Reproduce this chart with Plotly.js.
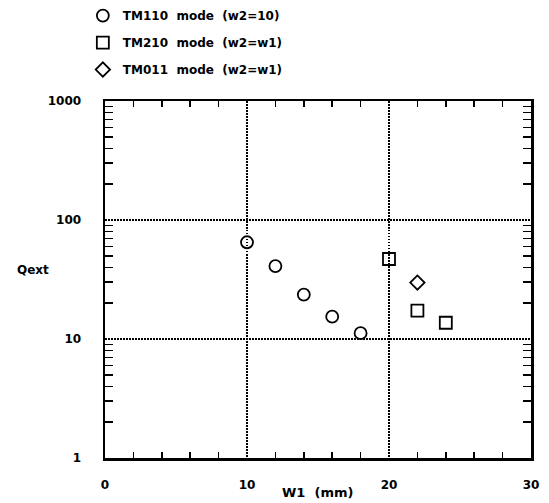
<!DOCTYPE html>
<html><head><meta charset="utf-8">
<script src="https://cdn.plot.ly/plotly-3.0.1.min.js"></script>
<style>body{margin:0;background:#fff}#plot{width:549px;height:503px}</style>
</head><body><div id="plot"></div>
<script>
const tm110_x = [10, 12, 14, 16, 18];
const tm110_q = [65, 41, 23.6, 15.4, 11.2];
const tm210_x = [20, 22, 24];
const tm210_q = [47, 17.3, 13.7];
const tm011_x = [22];
const tm011_q = [29.8];
const names = ['TM110\u00a0\u00a0mode\u00a0\u00a0(w2=10)', 'TM210\u00a0\u00a0mode\u00a0\u00a0(w2=w1)', 'TM011\u00a0\u00a0mode\u00a0\u00a0(w2=w1)'];
const xTicks = [0, 10, 20, 30];
const yTicks = [1, 10, 100, 1000];

const minorY = [];
[1, 10, 100].forEach(d => { for (let k = 2; k <= 9; k++) minorY.push(d * k); });

const FONT = 'DejaVu Sans, Arial, sans-serif';
const mk = (sym, size) => ({symbol: sym, size: size, color: '#000', line: {color: '#000', width: 1.8}});
const traces = [
  {x: tm110_x, y: tm110_q, name: names[0], mode: 'markers', marker: mk('circle-open', 12), legendgroup: 'a'},
  {x: tm210_x, y: tm210_q, name: names[1], mode: 'markers', marker: mk('square-open', 12), legendgroup: 'b'},
  {x: tm011_x, y: tm011_q, name: names[2], mode: 'markers', marker: mk('diamond-open', 11), legendgroup: 'c'}
];
const GRIDDASH = '1.5px,1.5px';
const layout = {
  width: 549, height: 503,
  margin: {l: 105, r: 18, t: 101, b: 45, autoexpand: false},
  paper_bgcolor: '#fff', plot_bgcolor: '#fff',
  font: {family: FONT, color: '#000', size: 12},
  showlegend: true,
  legend: {x: -0.052, xanchor: 'left', y: 1.28, yanchor: 'top', traceorder: 'grouped', tracegroupgap: 8,
           font: {family: FONT, size: 12, weight: 'bold'}, bgcolor: 'rgba(0,0,0,0)'},
  xaxis: {range: [0, 30], tickvals: xTicks, ticktext: xTicks.map(String), ticks: '', showgrid: true,
          griddash: GRIDDASH, gridcolor: '#000', gridwidth: 1.3, zeroline: false,
          showline: true, linecolor: '#000', linewidth: 2.5, mirror: 'allticks', automargin: false,
          ticklabelstandoff: 14, tickfont: {family: FONT, size: 12, weight: 'bold'},
          minor: {tickvals: [2,4,6,8,12,14,16,18,22,24,26,28], ticks: 'inside', ticklen: 6, tickwidth: 1.5, tickcolor: '#000', showgrid: false}},
  yaxis: {type: 'log', range: [0, 3], tickvals: yTicks, ticktext: yTicks.map(String), ticks: '', showgrid: true,
          griddash: GRIDDASH, gridcolor: '#000', gridwidth: 1.3, zeroline: false,
          showline: true, linecolor: '#000', linewidth: 2.5, mirror: 'allticks', automargin: false,
          ticklabelstandoff: 19, tickfont: {family: FONT, size: 12, weight: 'bold'},
          minor: {tickvals: minorY, ticks: 'inside', ticklen: 8, tickwidth: 1.5, tickcolor: '#000', showgrid: false}},
  annotations: [
    {text: 'Qext', xref: 'paper', yref: 'paper', x: -0.169, y: 0.527, showarrow: false, xanchor: 'center', yanchor: 'middle',
     font: {family: FONT, size: 12, weight: 'bold'}},
    {text: 'W1\u00a0\u00a0(mm)', xref: 'paper', yref: 'paper', x: 0.498, y: -0.098, yanchor: 'middle', xanchor: 'center', showarrow: false,
     font: {family: FONT, size: 13, weight: 'bold'}}
  ]
};
Plotly.newPlot('plot', traces, layout, {staticPlot: true});
</script></body></html>
